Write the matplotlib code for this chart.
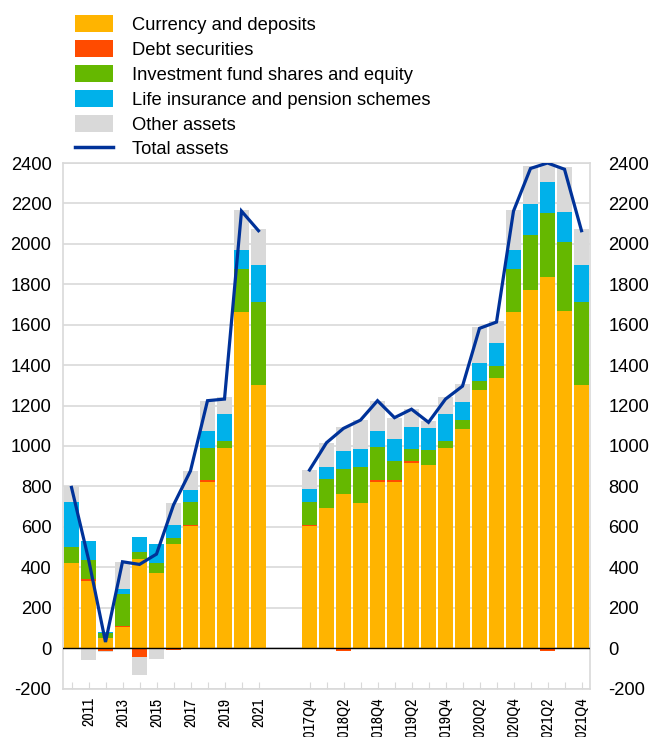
import matplotlib
matplotlib.use("Agg")
import matplotlib.pyplot as plt
from matplotlib import font_manager
from matplotlib.patches import Patch
from matplotlib.lines import Line2D
import numpy as np

plt.rcParams['font.family'] = ['Liberation Sans', 'DejaVu Sans']
plt.rcParams['axes.unicode_minus'] = False

# ---- data ----
years = ['2010', '2011', '2012', '2013', '2014', '2015', '2016', '2017', '2018', '2019', '2020', '2021']
quarters = ['2017Q4', '2018Q1', '2018Q2', '2018Q3', '2018Q4', '2019Q1', '2019Q2', '2019Q3', '2019Q4',
            '2020Q1', '2020Q2', '2020Q3', '2020Q4', '2021Q1', '2021Q2', '2021Q3', '2021Q4']

currency_a = [420, 331, 50, 105, 440, 369, 515, 604, 823, 991, 1661, 1301]
debt_a     = [0, 10, -14, 5, -45, 0, -10, 3, 10, -3, -5, -5]
inv_a      = [80, 94, 26, 160, 37, 50, 31, 117, 158, 33, 214, 412]
life_a     = [225, 93, 2, 20, 71, 96, 63, 58, 83, 134, 97, 181]
other_a    = [75, -60, -6, 137, -88, -52, 107, 95, 150, 82, 195, 179]
total_a    = [795, 440, 30, 427, 414, 465, 708, 877, 1224, 1232, 2162, 2065]

currency_q = [604, 694, 762, 716, 823, 823, 914, 904, 990, 1084, 1277, 1337, 1661, 1771, 1837, 1669, 1301]
debt_q     = [3, -5, -12, 3, 10, 10, 10, -3, -3, -5, -3, -3, -5, -5, -15, -5, -5]
inv_q      = [117, 141, 122, 178, 160, 91, 61, 74, 34, 46, 43, 58, 214, 273, 317, 341, 412]
life_q     = [61, 62, 91, 86, 81, 112, 110, 111, 134, 87, 92, 116, 97, 151, 153, 146, 181]
other_q    = [96, 119, 120, 145, 150, 104, 89, 34, 82, 88, 175, 109, 195, 190, 99, 225, 179]
total_q    = [881, 1016, 1087, 1128, 1224, 1140, 1182, 1117, 1232, 1296, 1582, 1613, 2162, 2373, 2400, 2369, 2065]

series_names = ['Currency and deposits', 'Debt securities', 'Investment fund shares and equity',
                'Life insurance and pension schemes', 'Other assets']
colors = ['#FFB400', '#FF4B00', '#65B800', '#00B1EA', '#D9D9D9']
line_color = '#003299'
line_name = 'Total assets'

# ---- condensed font for the rotated x labels ----
installed = {f.name for f in font_manager.fontManager.ttflist}
xfam, xsize = 'Liberation Sans', 9.8
for cand, size in (('Liberation Sans Narrow', 11.6), ('Arial Narrow', 11.6), ('Archivo Narrow', 11.5)):
    if cand in installed:
        xfam, xsize = cand, size
        break

# ---- layout ----
W, H = 650, 737
fig = plt.figure(figsize=(W / 100, H / 100), dpi=100)
left, right, top, bottom = 63, 590, 163, 688.5
ax = fig.add_axes([left / W, (H - bottom) / H, (right - left) / W, (bottom - top) / H])

gap = 2
x_a = np.arange(len(years))
x_q = np.arange(len(quarters)) + len(years) + gap

series_a = [currency_a, debt_a, inv_a, life_a, other_a]
series_q = [currency_q, debt_q, inv_q, life_q, other_q]
width = 0.86

for xs, series in ((x_a, series_a), (x_q, series_q)):
    pos = np.zeros(len(xs))
    neg = np.zeros(len(xs))
    for vals, c in zip(series, colors):
        v = np.array(vals, dtype=float)
        vp = np.where(v > 0, v, 0)
        vn = np.where(v < 0, v, 0)
        ax.bar(xs, vp, width, bottom=pos, color=c, linewidth=0, zorder=2)
        ax.bar(xs, vn, width, bottom=neg, color=c, linewidth=0, zorder=2)
        pos += vp
        neg += vn

ax.plot(x_a, total_a, color=line_color, lw=2.3, zorder=4, solid_joinstyle='miter')
ax.plot(x_q, total_q, color=line_color, lw=2.3, zorder=4, solid_joinstyle='miter')
ax.axhline(0, color='black', lw=1, zorder=3)

ax.set_xlim(-0.5, x_q[-1] + 0.5)
ax.set_ylim(-200, 2400)
yt = np.arange(-200, 2401, 200)
ax.set_yticks(yt)
ax.set_yticklabels([str(v) for v in yt])
ax.yaxis.grid(True, color='#d9d9d9', lw=1.2)
ax.set_axisbelow(True)

xt = list(x_a) + list(x_q)
xl = [y if i % 2 == 1 else '' for i, y in enumerate(years)] + \
     [q if i % 2 == 0 else '' for i, q in enumerate(quarters)]
ax.set_xticks(xt)
ax.set_xticklabels(xl, rotation=90, va='top', ha='center',
                   family=[xfam, 'Liberation Sans'], fontsize=xsize)
ax.tick_params(axis='x', direction='in', length=5, color='#d9d9d9', pad=6.5)
ax.tick_params(axis='y', length=0, labelsize=13.2, pad=8.3)

for s in ax.spines.values():
    s.set_color('#d9d9d9')
    s.set_linewidth(1.2)

ax2 = ax.twinx()
ax2.set_ylim(-200, 2400)
ax2.set_yticks(yt)
ax2.set_yticklabels([str(v) for v in yt])
ax2.tick_params(axis='y', length=0, labelsize=13.2, pad=13.3)
for s in ax2.spines.values():
    s.set_visible(False)

handles = [Patch(facecolor=c, edgecolor='none') for c in colors] + \
          [Line2D([0], [0], color=line_color, lw=2.5)]
labels = series_names + [line_name]
fig.legend(handles, labels, loc='upper left', bbox_to_anchor=(75 / W, 1 - 15.5 / H),
           bbox_transform=fig.transFigure, frameon=False, fontsize=13.2,
           borderpad=0, borderaxespad=0, handlelength=2.08, handleheight=1.04,
           handletextpad=1.04, labelspacing=0.335)

fig.savefig('out.png', dpi=100)
